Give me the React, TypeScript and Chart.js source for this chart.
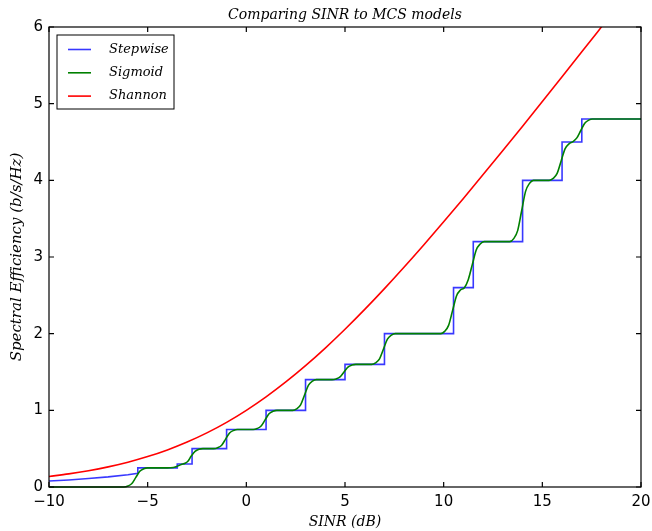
import { useEffect, useRef } from 'react';
import { Chart, registerables } from 'chart.js';

Chart.register(...registerables);

// ---- data ----
const xTickStep = 5;
const yTickStep = 1;
const xMin = -10;
const xMax = 20;
const yMin = 0;
const yMax = 6;

const seriesLabels = ['Stepwise', 'Sigmoid', 'Shannon'];

const stepwiseX = [-10, -9, -8, -7, -6, -5.5, -5.5, -3.5, -3.5, -2.75, -2.75, -1, -1, 1, 1, 3, 3, 5, 5, 7, 7, 10.5, 10.5, 11.5, 11.5, 14, 14, 16, 16, 17, 17, 20];
const stepwiseY = [0.078, 0.092, 0.11, 0.132, 0.16, 0.178, 0.25, 0.25, 0.3, 0.3, 0.5, 0.5, 0.75, 0.75, 1.0, 1.0, 1.4, 1.4, 1.6, 1.6, 2.0, 2.0, 2.6, 2.6, 3.2, 3.2, 4.0, 4.0, 4.5, 4.5, 4.8, 4.8];

const sigmoidX = [
  -10, -6.2, -6.0, -5.8, -5.6, -5.4, -5.2, -5.0,
  -4.0, -3.7, -3.5, -3.3, -3.1, -2.95, -2.8, -2.6, -2.4, -2.2,
  -1.65, -1.45, -1.25, -1.05, -0.85, -0.65, -0.45,
  0.35, 0.55, 0.75, 0.95, 1.15, 1.35, 1.55,
  2.35, 2.55, 2.75, 2.95, 3.15, 3.35, 3.55,
  4.35, 4.55, 4.75, 4.95, 5.15, 5.35, 5.55,
  6.35, 6.55, 6.75, 6.95, 7.15, 7.35, 7.55,
  9.85, 10.05, 10.25, 10.45, 10.65, 10.85, 11.05,
  11.25, 11.45, 11.65, 11.85, 12.05,
  13.35, 13.55, 13.75, 13.95, 14.15, 14.35, 14.55,
  15.35, 15.55, 15.75, 15.95, 16.15, 16.35, 16.55, 16.75, 16.95, 17.15, 17.35, 17.55, 20,
];
const sigmoidY = [
  0, 0, 0.0125, 0.045, 0.125, 0.205, 0.2375, 0.25,
  0.25, 0.255, 0.27, 0.295, 0.31, 0.34, 0.4, 0.465, 0.493, 0.5,
  0.5, 0.5125, 0.545, 0.625, 0.705, 0.7375, 0.75,
  0.75, 0.7625, 0.795, 0.875, 0.955, 0.9875, 1.0,
  1.0, 1.02, 1.072, 1.2, 1.328, 1.38, 1.4,
  1.4, 1.41, 1.436, 1.5, 1.564, 1.59, 1.6,
  1.6, 1.62, 1.672, 1.8, 1.928, 1.98, 2.0,
  2.0, 2.03, 2.108, 2.3, 2.492, 2.57, 2.6,
  2.708, 2.9, 3.092, 3.17, 3.2,
  3.2, 3.24, 3.344, 3.6, 3.856, 3.96, 4.0,
  4.0, 4.025, 4.09, 4.25, 4.41, 4.475, 4.505, 4.554, 4.65, 4.746, 4.785, 4.8, 4.8,
];

const shannonX = [-10, -9, -8, -7, -6, -5, -4, -3, -2, -1, 0, 1, 2, 3, 4, 5, 6, 7, 8, 9, 10, 11, 12, 13, 14, 15, 16, 17, 18, 19, 20];
const shannonY = [0.1375, 0.1711, 0.2122, 0.2625, 0.3233, 0.3964, 0.4835, 0.5861, 0.7057, 0.8434, 1.0, 1.1756, 1.3701, 1.5827, 1.8122, 2.0574, 2.3165, 2.5878, 2.8698, 3.1608, 3.4594, 3.7644, 4.0746, 4.3891, 4.707, 5.0278, 5.3509, 5.6758, 6.0022, 6.329, 6.658];

const toPoints = (xs: number[], ys: number[]) => xs.map((x, i) => ({ x, y: ys[i] }));
const fmt = (v: number) => (v < 0 ? '\u2212' + Math.abs(v) : String(v));

const SERIF = "'DejaVu Serif', serif";
const SANS = "'DejaVu Sans', sans-serif";

const framePlugin = {
  id: 'frameTicksLegend',
  afterDraw(chart: any) {
    const { ctx, chartArea } = chart;
    const { left, right, top, bottom } = chartArea;
    const xs = chart.scales.x;
    const ys = chart.scales.y;
    ctx.save();
    ctx.strokeStyle = '#000';
    ctx.lineWidth = 1.2;
    ctx.strokeRect(left, top, right - left, bottom - top);
    const tl = 5;
    ctx.beginPath();
    for (const t of xs.ticks) {
      const px = xs.getPixelForValue(t.value);
      ctx.moveTo(px, bottom);
      ctx.lineTo(px, bottom - tl);
      ctx.moveTo(px, top);
      ctx.lineTo(px, top + tl);
    }
    for (const t of ys.ticks) {
      const py = ys.getPixelForValue(t.value);
      ctx.moveTo(left, py);
      ctx.lineTo(left + tl, py);
      ctx.moveTo(right, py);
      ctx.lineTo(right - tl, py);
    }
    ctx.stroke();

    // legend
    const bx = left + 8;
    const by = top + 8;
    const bw = 117;
    const bh = 74;
    ctx.fillStyle = '#fff';
    ctx.fillRect(bx, by, bw, bh);
    ctx.lineWidth = 1;
    ctx.strokeStyle = '#000';
    ctx.strokeRect(bx, by, bw, bh);
    const rows = [22.5, 45.8, 69.1];
    ctx.font = `italic 13px ${SERIF}`;
    ctx.textBaseline = 'middle';
    ctx.textAlign = 'left';
    chart.data.datasets.forEach((ds: any, i: number) => {
      const ry = top + rows[i];
      ctx.strokeStyle = ds.borderColor;
      ctx.lineWidth = 1.6;
      ctx.beginPath();
      ctx.moveTo(left + 19, ry);
      ctx.lineTo(left + 42, ry);
      ctx.stroke();
      ctx.fillStyle = '#000';
      ctx.fillText(ds.label, left + 60, ry);
    });
    ctx.restore();
  },
};

export default function App() {
  const canvasRef = useRef<HTMLCanvasElement | null>(null);

  useEffect(() => {
    if (!canvasRef.current) return;
    const chart = new Chart(canvasRef.current, {
      type: 'line',
      data: {
        datasets: [
          {
            label: seriesLabels[0],
            data: toPoints(stepwiseX, stepwiseY),
            borderColor: 'rgba(0,0,255,0.78)',
            borderWidth: 1.6,
            pointRadius: 0,
            tension: 0,
            order: 3,
            clip: { left: 0, top: 0, right: 0, bottom: 2 },
          },
          {
            label: seriesLabels[1],
            data: toPoints(sigmoidX, sigmoidY),
            borderColor: '#008000',
            borderWidth: 1.6,
            pointRadius: 0,
            cubicInterpolationMode: 'monotone',
            order: 2,
            clip: { left: 0, top: 0, right: 0, bottom: 2 },
          },
          {
            label: seriesLabels[2],
            data: toPoints(shannonX, shannonY),
            borderColor: '#ff0000',
            borderWidth: 1.6,
            pointRadius: 0,
            cubicInterpolationMode: 'monotone',
            order: 1,
            clip: { left: 0, top: 0, right: 0, bottom: 2 },
          },
        ],
      } as any,
      options: {
        animation: false,
        responsive: false,
        maintainAspectRatio: false,
        events: [],
        layout: { padding: { top: 0, right: 11, bottom: 0, left: 0 } },
        plugins: {
          legend: { display: false },
          tooltip: { enabled: false },
          title: {
            display: true,
            text: 'Comparing SINR to MCS models',
            fullSize: false,
            color: '#000',
            font: { family: SERIF, style: 'italic', size: 14, weight: 'normal' },
            padding: { top: 6.6, bottom: 3.6 },
          },
        },
        scales: {
          x: {
            type: 'linear',
            min: xMin,
            max: xMax,
            ticks: {
              stepSize: xTickStep,
              color: '#000',
              font: { family: SANS, size: 15 },
              padding: 6,
              maxRotation: 0,
              autoSkip: false,
              callback: (v: any) => fmt(Number(v)),
            },
            grid: { display: false, drawTicks: false },
            border: { display: false },
            title: {
              display: true,
              text: 'SINR (dB)',
              color: '#000',
              font: { family: SERIF, style: 'italic', size: 14, weight: 'normal' },
              padding: { top: 0, bottom: 0 },
            },
            afterFit: (s: any) => {
              s.height = 44;
              s.paddingLeft = 0;
              s.paddingRight = 0;
            },
          },
          y: {
            type: 'linear',
            min: yMin,
            max: yMax,
            ticks: {
              stepSize: yTickStep,
              color: '#000',
              font: { family: SANS, size: 15 },
              padding: 6,
              callback: (v: any) => fmt(Number(v)),
            },
            grid: { display: false, drawTicks: false },
            border: { display: false },
            title: {
              display: true,
              text: 'Spectral Efficiency (b/s/Hz)',
              color: '#000',
              font: { family: SERIF, style: 'italic', size: 15, weight: 'normal' },
              padding: { top: 8, bottom: 0 },
            },
            afterFit: (s: any) => {
              s.width = 49;
              s.paddingTop = 0;
              s.paddingBottom = 0;
            },
          },
        },
      } as any,
      plugins: [framePlugin],
    });
    return () => chart.destroy();
  }, []);

  return (
    <div style={{ position: 'absolute', left: 0, top: 0, width: 652, height: 531, background: '#fff' }}>
      <canvas ref={canvasRef} width={652} height={531} style={{ width: 652, height: 531, display: 'block' }} />
    </div>
  );
}
